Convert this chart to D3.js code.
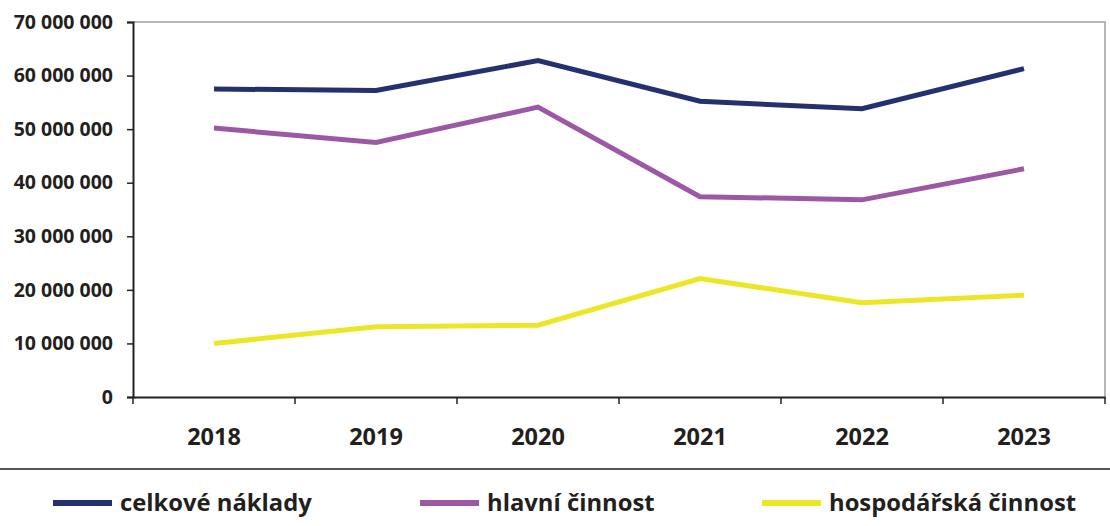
<!DOCTYPE html>
<html><head><meta charset="utf-8">
<script src="https://cdn.jsdelivr.net/npm/d3@7"></script>
<style>
html,body{margin:0;padding:0;background:#fff;}
svg{display:block;font-family:"Open Sans",sans-serif;font-weight:700;}
</style></head>
<body>
<svg id="c" width="1110" height="526"></svg>
<script>
const years = ["2018","2019","2020","2021","2022","2023"];
const celkove = [57500000, 57200000, 62800000, 55200000, 53800000, 61300000];
const hlavni = [50200000, 47500000, 54100000, 37400000, 36800000, 42600000];
const hospodarska = [10000000, 13100000, 13400000, 22100000, 17600000, 19000000];
const yTicks = [0,10000000,20000000,30000000,40000000,50000000,60000000,70000000];
const seriesNames = ["celkové náklady","hlavní činnost","hospodářská činnost"];
const seriesColors = ["#25316f","#9c58a4","#ede626"];

const svg = d3.select("#c");
const pL = 133, pR = 1105, pT = 22, pB = 397;
const x = d3.scaleBand().domain(years).range([pL,pR]);
const y = d3.scaleLinear().domain([0,70000000]).range([pB,pT]);
const fmt = v => v===0 ? "0" : d3.format(",")(v).replace(/,/g," ");

// plot area border (top/right grey)
svg.append("path").attr("d",`M${pL},${pT}H${pR}V${pB}`)
  .attr("fill","none").attr("stroke","#a0a0a0").attr("stroke-width",1.5);

// y axis
const ya = svg.append("g").attr("transform",`translate(${pL},0)`)
  .call(d3.axisLeft(y).tickValues(yTicks).tickFormat(fmt).tickSize(6).tickPadding(14));
ya.select(".domain").attr("stroke","#222").attr("stroke-width",2);
ya.selectAll(".tick line").attr("stroke","#222").attr("stroke-width",1.5);
ya.selectAll("text").attr("font-size",19.5).attr("font-weight",700).attr("fill","#231f20")
  .attr("font-family","Open Sans");

// x axis
const xa = svg.append("g").attr("transform",`translate(0,${pB})`)
  .call(d3.axisBottom(x).tickSize(0).tickPadding(31));
xa.select(".domain").attr("stroke","#222").attr("stroke-width",2);
xa.selectAll("text").attr("font-size",23.5).attr("font-weight",700).attr("fill","#231f20")
  .attr("font-family","Open Sans");
// boundary ticks
const bounds = years.map(d=>x(d)).concat([pR]);
xa.selectAll(".btick").data(bounds).enter().append("line")
  .attr("x1",d=>d).attr("x2",d=>d).attr("y1",0).attr("y2",7)
  .attr("stroke","#222").attr("stroke-width",1.5);

// lines
const line = d3.line().x((d,i)=>x(years[i])+x.bandwidth()/2).y(d=>y(d));
[celkove,hlavni,hospodarska].forEach((s,i)=>{
  svg.append("path").datum(s).attr("d",line).attr("fill","none")
    .attr("stroke",seriesColors[i]).attr("stroke-width",5);
});

// separator
svg.append("line").attr("x1",0).attr("x2",1110).attr("y1",469).attr("y2",469)
  .attr("stroke","#555").attr("stroke-width",2);

// legend
const legX = [53,420,762];
seriesNames.forEach((n,i)=>{
  const g = svg.append("g").attr("transform",`translate(${legX[i]},503)`);
  g.append("line").attr("x1",0).attr("x2",59).attr("y1",0).attr("y2",0)
    .attr("stroke",seriesColors[i]).attr("stroke-width",6);
  g.append("text").attr("x",67).attr("y",0).attr("dy","0.35em")
    .attr("font-size",23.8).attr("font-weight",700).attr("fill","#231f20").text(n);
});
</script>
</body></html>
